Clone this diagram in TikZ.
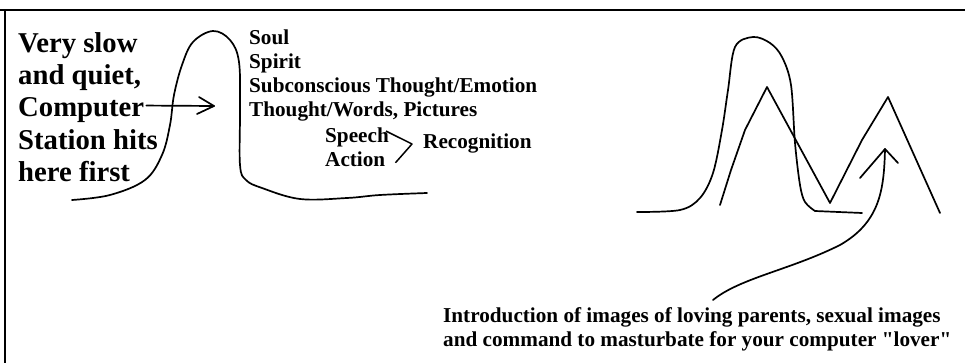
\documentclass[tikz,border=0pt]{standalone}
\usepackage{fontspec}
\setmainfont{Liberation Serif}[Ligatures=TeXOff]
\begin{document}
\begin{tikzpicture}[x=1pt,y=-1pt,
  pen/.style={line width=1.7pt,line cap=round,line join=round},
  bigtxt/.style={anchor=base west,inner sep=0pt,font=\fontsize{28.7}{32}\selectfont\bfseries},
  midtxt/.style={anchor=base west,inner sep=0pt,font=\fontsize{21.2}{24}\selectfont\bfseries},
  lowtxt/.style={anchor=base west,inner sep=0pt,font=\fontsize{21.2}{24}\selectfont\bfseries}]
\useasboundingbox (0,0) rectangle (965,363);
% frame
\draw[line width=2.8pt] (0,10) -- (965,10);
\draw[line width=2.8pt] (5,10) -- (5,363);
% left text
\node[bigtxt] (l1) at (18,53) {Very slow};
\node[bigtxt] (l2) at (18,85) {and quiet,};
\node[bigtxt] (l3) at (18,117) {Computer};
\node[bigtxt] (l4) at (18,150) {Station hits};
\node[bigtxt] (l5) at (18,182) {here first};
% left hump
\draw[pen] plot[smooth,tension=0.6] coordinates {(72,200) (110,195) (145,180) (162,155) (170,125) (174,95) (182,65) (193,42) (213,31) (230,40) (239,62) (240,110) (240,165) (246,180) (262,188) (300,199) (347,198) (380,195) (427,193)};
% arrow
\coordinate (hit) at (214,106);
\draw[pen] (l3.east) ++(2,-5) -- (hit);
\draw[pen] (199,97) -- (hit) -- (197,114);
% right text
\node[midtxt] (soul) at (249,45) {Soul};
\node[midtxt] (spirit) at (249,69) {Spirit};
\node[midtxt] (subc) at (249,93) {Subconscious Thought/Emotion};
\node[midtxt] (words) at (249,117) {Thought/Words, Pictures};
\node[midtxt] (speech) at (325,143) {Speech};
\node[midtxt] (action) at (325,167) {Action};
\node[midtxt] (recog) at (423,149) {Recognition};
\coordinate (bv) at (412,144);
\draw[line width=1.5pt,line join=round] (speech.north east) ++(-3,3) -- (bv) -- ([xshift=10pt,yshift=-3pt]action.east);
% right drawing: hump
\draw[pen] plot[smooth,tension=0.55] coordinates {(637,212) (680,210) (700,198) (713,173) (722,130) (728,90) (735,47) (753,37) (770,43) (782,57) (791,85) (795,143) (800,185) (805,202) (815,211)} -- (862,213);
% M shape
\draw[pen] (720,205) -- (731,170) -- (745,130) -- (767,87) -- (830,203) -- (862,140) -- (888,97) -- (940,213);
% curved arrow
\node[lowtxt] (b1) at (443,322) {Introduction of images of loving parents, sexual images};
\node[lowtxt] (b2) at (443,346) {and command to masturbate for your computer "lover"};
\coordinate (tip) at (885,149);
\draw[pen] (713,300) .. controls (740,278) and (790,270) .. (840,245) .. controls (880,222) and (884,190) .. (tip);
\draw[pen] (860,178) -- (tip) -- (898,163);
\end{tikzpicture}
\end{document}
